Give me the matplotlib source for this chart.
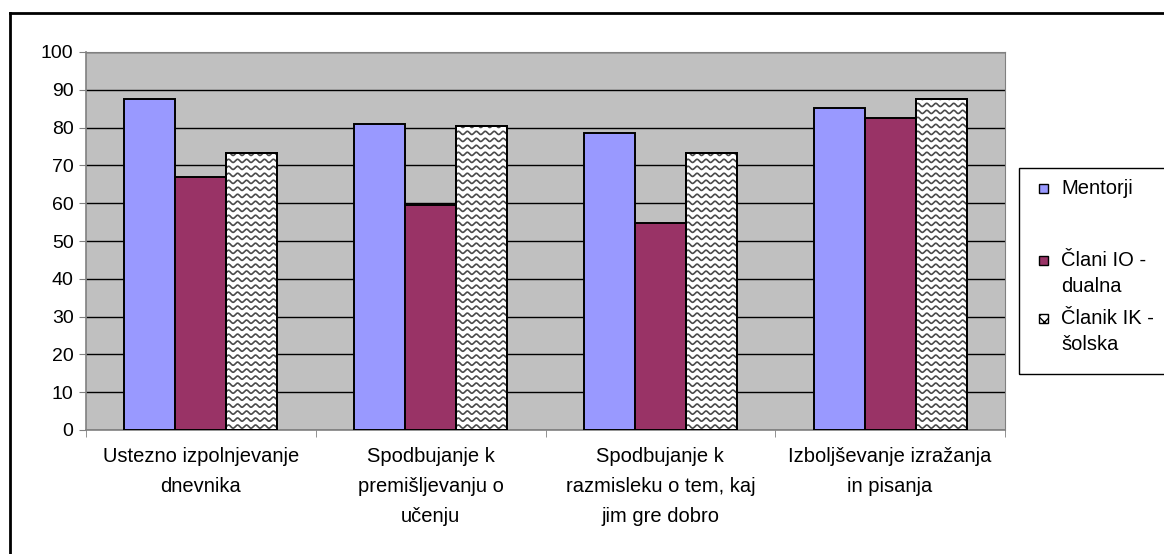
import numpy as np
import matplotlib.pyplot as plt
from matplotlib.patches import Rectangle
from matplotlib.lines import Line2D

plt.rcParams['font.family'] = ['Liberation Sans', 'DejaVu Sans']

# ---- data ----
categories = ["Ustezno izpolnjevanje\ndnevnika",
              "Spodbujanje k\npremišljevanju o\nučenju",
              "Spodbujanje k\nrazmisleku o tem, kaj\njim gre dobro",
              "Izboljševanje izražanja\nin pisanja"]
mentorji = [87.6, 81.0, 78.6, 85.3]
clani_io = [66.9, 59.5, 54.8, 82.6]
clanik_ik = [73.3, 80.5, 73.3, 87.5]
series_names = ["Mentorji", "Člani IO -\ndualna", "Članik IK -\nšolska"]
yticks = list(range(0, 101, 10))

W, H = 1164, 554
fig = plt.figure(figsize=(W / 100, H / 100), dpi=100)
ax = fig.add_axes([86 / W, (H - 430) / H, (1005 - 86) / W, (430 - 52) / H])
ax.set_facecolor("#C0C0C0")

x = np.arange(len(categories))
bw = 0.222
b1 = ax.bar(x - bw, mentorji, bw, color="#9999FF", edgecolor="black", lw=1.4, zorder=3)
b2 = ax.bar(x, clani_io, bw, color="#993366", edgecolor="black", lw=1.4, zorder=3)
b3 = ax.bar(x + bw, clanik_ik, bw, color="white", edgecolor="black", lw=1.4, zorder=3)


def wave_fill(patch):
    # wavy pattern drawn inside the bar, clipped to it
    x0, y0 = patch.get_x(), patch.get_y()
    w, h = patch.get_width(), patch.get_height()
    xs = np.linspace(x0, x0 + w, 200)
    period = 0.039
    for yy in np.arange(y0 + 0.9, y0 + h + 2, 1.85):
        ys = yy + 0.42 * np.sin(2 * np.pi * (xs - x0) / period)
        ln, = ax.plot(xs, ys, color="#4a4a4a", lw=1.2, zorder=3.5)
        ln.set_clip_path(patch)


for p in b3:
    wave_fill(p)
    ax.add_patch(Rectangle((p.get_x(), p.get_y()), p.get_width(), p.get_height(),
                           fill=False, edgecolor="black", lw=1.4, zorder=4))

ax.set_xlim(-0.5, len(categories) - 0.5)
ax.set_ylim(0, 100)
ax.set_yticks(yticks)
ax.yaxis.grid(True, color="black", lw=1)
ax.set_axisbelow(True)
ax.tick_params(axis="y", labelsize=14, length=5, direction="out", color="#808080", pad=4)
ax.set_xticks(np.arange(-0.5, len(categories)), minor=True)
ax.set_xticks([])
ax.tick_params(axis="x", which="minor", length=5, color="#808080")
for s in ["top", "right"]:
    ax.spines[s].set_color("#808080")
for s in ["left", "bottom"]:
    ax.spines[s].set_color("#808080")
    ax.spines[s].set_linewidth(1.2)

for xi, lab in zip(x, categories):
    ax.text(xi, -4.6, lab, ha="center", va="top", fontsize=14.5, linespacing=1.72)

# outer frame (top and left only visible)
fig.add_artist(Line2D([10 / W, 1], [1 - 13 / H, 1 - 13 / H], color="black", lw=2,
                      transform=fig.transFigure))
fig.add_artist(Line2D([10 / W, 10 / W], [0, 1 - 13 / H], color="black", lw=2,
                      transform=fig.transFigure))

# legend box
fig.add_artist(Rectangle((1019 / W, (H - 374) / H), 150 / W, (374 - 168) / H,
                         transform=fig.transFigure, fill=False, edgecolor="black", lw=1))
legend_y = [188, 272, 330]
legend_col = ["#9999FF", "#993366", "white"]
for yy, c, name in zip(legend_y, legend_col, series_names):
    first_line_y = yy if "\n" not in name else yy - 12
    fig.add_artist(Rectangle((1039 / W, (H - first_line_y - 5) / H), 9 / W, 9 / H,
                             transform=fig.transFigure, facecolor=c, edgecolor="black",
                             lw=1, hatch="xxx" if c == "white" else None))
    fig.text(1061 / W, (H - first_line_y) / H, name.split("\n")[0], fontsize=14.5,
             va="center", ha="left")
    if "\n" in name:
        fig.text(1061 / W, (H - first_line_y - 26) / H, name.split("\n")[1],
                 fontsize=14.5, va="center", ha="left")

fig.savefig("out.png", dpi=100)
